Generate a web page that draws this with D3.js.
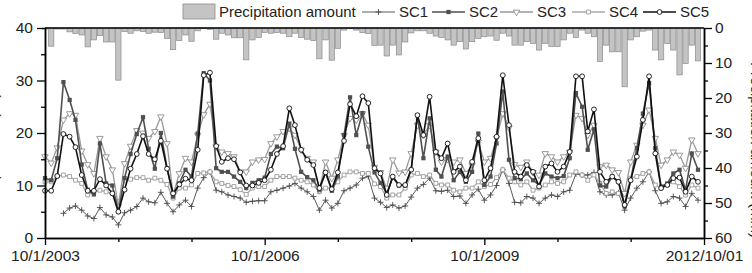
<!DOCTYPE html>
<html>
<head>
<meta charset="utf-8">
<script src="https://cdn.jsdelivr.net/npm/d3@7"></script>
<style>
  body { margin: 0; background: #fff; }
  svg { display: block; font-family: "Liberation Sans", Arial, sans-serif; }
</style>
</head>
<body>
<svg id="chart" width="752" height="273"></svg>
<script>
// monthly values, Oct 2003 .. Sep 2012
var startMonth = new Date(2003, 9, 1);

var precipitation = [0.3, 5.2, 0.3, 0.3, 1.1, 1.6, 2.0, 5.4, 3.4, 2.2, 4.0, 4.0, 14.9, 1.0, 1.5, 0.8, 1.0, 1.5, 1.2, 1.3,
  3.0, 6.2, 3.6, 2.0, 3.8, 0.8, 0.2, 0.4, 3.2, 1.5, 2.0, 2.8, 2.8, 9.1, 3.4, 2.7, 1.3, 1.5, 1.3, 1.5,
  2.5, 1.5, 2.7, 3.2, 3.6, 8.8, 3.4, 9.2, 5.8, 0.6, 0.2, 0.6, 1.3, 1.6, 5.0, 4.9, 8.0, 4.9, 7.7, 4.0,
  1.4, 0.8, 0.8, 1.5, 2.3, 2.7, 3.4, 4.9, 3.9, 6.0, 3.9, 3.0, 2.5, 2.3, 3.5, 1.5, 2.3, 4.9, 4.9, 3.9,
  4.4, 6.3, 4.4, 5.3, 5.3, 3.4, 1.5, 2.7, 0.6, 1.5, 2.5, 9.6, 4.9, 6.8, 6.8, 16.8, 3.4, 2.5, 0.9, 0.6,
  6.3, 9.1, 4.4, 6.3, 13.4, 10.1, 4.9, 9.4];

var sc1 = [null, null, null, 4.7, 5.7, 6.1, 5.3, 4.2, 3.7, 5.8, 4.4, 4.0, 2.5, 4.8, 5.3, 6.0, 7.6, 6.9, 6.7, 8.7,
  6.6, 5.0, 6.3, 7.2, 6.0, 9.5, 11.5, 12.6, 9.1, 8.8, 8.2, 7.9, 7.6, 6.8, 7.0, 7.1, 7.1, 8.8, 9.1, 9.5,
  9.9, 10.4, 9.5, 8.8, 7.9, 5.3, 7.2, 5.7, 6.6, 9.0, 9.5, 10.1, 11.4, 11.7, 7.6, 6.8, 5.8, 6.3, 5.7, 6.1,
  7.8, 9.5, 10.2, 11.4, 9.0, 8.9, 9.1, 7.9, 8.0, 6.6, 8.2, 9.3, 7.2, 8.2, 10.0, 13.0, 10.4, 6.8, 6.7, 7.9,
  7.6, 6.6, 7.6, 8.2, 7.9, 8.8, 9.1, 12.2, 12.0, 12.0, 12.5, 8.8, 8.2, 8.2, 8.6, 5.3, 7.6, 9.5, 10.7, 12.6,
  9.0, 6.6, 6.9, 7.9, 7.6, 6.0, 8.5, 7.2];

var sc2 = [11.4, 11.0, 15.2, 29.7, 26.3, 22.5, 14.0, 9.2, 8.3, 18.0, 10.4, 10.0, 5.0, 11.4, 16.0, 19.8, 23.0, 17.0, 13.2, 20.0,
  13.3, 7.9, 10.4, 13.0, 11.7, 19.9, 31.4, 30.0, 13.3, 12.6, 12.6, 11.7, 10.7, 9.5, 10.5, 11.0, 11.5, 16.0, 17.4, 17.1,
  21.8, 17.0, 12.6, 11.6, 11.0, 9.2, 12.5, 9.0, 11.7, 19.6, 26.8, 19.6, 23.8, 17.4, 12.5, 10.5, 8.5, 11.5, 10.0, 10.0,
  13.0, 23.4, 15.2, 22.8, 13.0, 11.7, 15.5, 11.0, 12.6, 10.7, 12.6, 19.9, 10.1, 11.7, 18.0, 27.9, 14.9, 11.4, 11.2, 12.3,
  11.0, 10.1, 12.3, 11.7, 11.4, 11.8, 15.2, 27.6, 25.0, 16.8, 20.7, 10.0, 9.8, 11.7, 10.8, 6.0, 11.0, 17.1, 23.7, 29.5,
  17.1, 9.8, 10.4, 12.3, 13.0, 9.1, 16.1, 13.0];

var sc3 = [15.5, 14.3, 17.2, 22.5, 23.7, 23.4, 16.6, 14.0, 12.3, 19.0, 15.5, 13.0, 6.0, 14.2, 17.5, 20.5, 20.0, 19.0, 20.3, 23.1,
  18.0, 8.2, 12.3, 15.2, 14.5, 19.6, 23.5, 25.5, 17.4, 16.4, 16.1, 15.5, 12.6, 12.6, 14.5, 14.9, 15.0, 18.0, 19.3, 20.3,
  20.9, 19.6, 16.8, 15.2, 14.5, 9.1, 14.5, 11.4, 14.9, 19.6, 22.8, 22.5, 23.7, 21.5, 13.5, 12.5, 9.5, 14.9, 12.4, 12.6,
  16.1, 21.5, 19.6, 21.5, 16.4, 14.5, 15.0, 14.5, 14.9, 12.3, 13.9, 18.3, 14.5, 15.2, 19.0, 23.7, 21.0, 14.0, 13.5, 14.5,
  12.5, 12.0, 16.1, 15.5, 14.5, 15.5, 16.4, 23.4, 22.8, 19.6, 21.5, 13.6, 13.9, 13.0, 12.5, 8.5, 14.5, 17.7, 21.5, 24.4,
  19.0, 13.9, 14.9, 16.4, 15.8, 13.3, 18.7, 16.1];

var sc4 = [10.7, 10.7, 11.8, 12.0, 11.7, 11.0, 10.4, 8.2, 8.8, 9.1, 8.8, 8.5, 6.9, 11.0, 11.2, 11.5, 11.5, 11.0, 11.4, 11.0,
  10.2, 7.6, 9.5, 9.5, 10.1, 12.3, 12.4, 12.6, 10.7, 10.4, 10.0, 9.8, 9.2, 8.3, 9.5, 9.8, 9.8, 11.0, 11.7, 11.7,
  11.7, 11.4, 11.0, 10.7, 10.1, 8.8, 9.5, 9.5, 10.7, 12.0, 12.6, 12.6, 12.3, 12.3, 10.3, 9.8, 7.6, 8.2, 8.2, 9.5,
  12.0, 12.3, 11.7, 12.0, 10.4, 10.1, 10.1, 9.1, 8.8, 9.5, 9.5, 10.7, 9.8, 10.2, 11.5, 13.0, 11.4, 10.7, 10.1, 10.7,
  9.1, 9.5, 10.1, 10.7, 10.4, 10.7, 12.0, 12.6, 12.0, 11.0, 12.0, 10.4, 8.5, 8.8, 8.5, 7.6, 11.4, 11.7, 12.3, 12.6,
  10.1, 9.5, 10.1, 10.7, 9.8, 8.2, 10.1, 9.5];

var sc5 = [9.0, 9.0, 11.8, 19.8, 19.3, 17.3, 12.0, 9.0, 9.0, 11.2, 10.0, 8.5, 5.0, 9.2, 13.2, 16.0, 19.4, 16.0, 15.0, 18.5,
  13.2, 8.5, 10.2, 11.3, 11.0, 16.8, 31.0, 31.5, 17.5, 14.5, 15.2, 15.0, 12.5, 10.0, 10.0, 10.5, 11.0, 13.0, 16.0, 17.5,
  24.7, 21.5, 16.8, 14.9, 13.9, 9.5, 12.5, 9.3, 12.5, 18.5, 25.5, 23.2, 27.0, 25.7, 13.3, 12.3, 8.2, 11.7, 10.1, 10.1,
  13.0, 23.4, 19.6, 26.9, 16.4, 15.2, 18.0, 12.6, 13.6, 11.0, 14.5, 19.0, 11.0, 13.3, 19.3, 31.0, 21.5, 12.6, 11.7, 13.9,
  12.6, 9.8, 13.6, 14.2, 12.6, 13.6, 16.4, 30.8, 30.8, 20.3, 24.5, 12.6, 10.7, 11.7, 10.7, 6.3, 11.0, 15.5, 22.5, 30.8,
  16.1, 9.5, 10.1, 11.4, 11.5, 8.8, 11.7, 10.7];

var seriesNames = ["SC1", "SC2", "SC3", "SC4", "SC5"];
var seriesValues = [sc1, sc2, sc3, sc4, sc5];

var xTickLabels = ["10/1/2003", "10/1/2006", "10/1/2009", "2012/10/01"];
var tempTicks = [0, 10, 20, 30, 40];
var precipTicks = [0, 10, 20, 30, 40, 50, 60];

var svg = d3.select("#chart"),
    plotL = 45, plotR = 704, plotT = 28, plotB = 238;

function monthDate(i) { return d3.timeMonth.offset(startMonth, i); }

var x = d3.scaleTime()
    .domain([startMonth, monthDate(108)])
    .range([plotL, plotR]);
var y = d3.scaleLinear().domain([0, 40]).range([plotB, plotT]);
var yP = d3.scaleLinear().domain([0, 60]).range([plotT, plotB]);

// precipitation bars hanging from the top
var barW = (plotR - plotL) / 108 - 0.8;
svg.append("g").selectAll("rect")
    .data(precipitation)
    .enter().append("rect")
    .attr("x", function (d, i) { return x(monthDate(i)) - barW / 2; })
    .attr("y", plotT)
    .attr("width", barW)
    .attr("height", function (d) { return yP(d) - plotT; })
    .attr("fill", "#c4c4c4")
    .attr("stroke", "#8c8c8c")
    .attr("stroke-width", 0.7);

// thin plus marker like the original (d3's cross is a filled shape)
var plusMark = "M-3,0H3M0,-3V3";

var styles = {
  SC1: { line: "#5a5a5a", width: 1, path: plusMark, fill: "none", stroke: "#4a4a4a" },
  SC2: { line: "#505050", width: 1.6, symbol: d3.symbolSquare, size: 18, fill: "#505050", stroke: "none" },
  SC3: { line: "#9a9a9a", width: 1.3, symbol: d3.symbolTriangle, size: 18, fill: "#fff", stroke: "#8e8e8e", rotate: 180 },
  SC4: { line: "#a8a8a8", width: 1.3, symbol: d3.symbolSquare, size: 15, fill: "#fff", stroke: "#9a9a9a" },
  SC5: { line: "#111", width: 1.6, symbol: d3.symbolCircle, size: 18, fill: "#fff", stroke: "#111" }
};

function markPath(s) { return s.path || d3.symbol().type(s.symbol).size(s.size)(); }

var drawOrder = [0, 3, 2, 1, 4];
var line = d3.line()
    .defined(function (d) { return d != null; })
    .x(function (d, i) { return x(monthDate(i)); })
    .y(function (d) { return y(d); });

drawOrder.forEach(function (k) {
  var name = seriesNames[k], s = styles[name], vals = seriesValues[k];
  var g = svg.append("g");
  g.append("path")
      .attr("d", line(vals))
      .attr("fill", "none")
      .attr("stroke", s.line)
      .attr("stroke-width", s.width);
  g.selectAll("path.m")
      .data(vals.map(function (v, i) { return { v: v, i: i }; }).filter(function (d) { return d.v != null; }))
      .enter().append("path")
      .attr("class", "m")
      .attr("d", markPath(s))
      .attr("transform", function (d) {
        return "translate(" + x(monthDate(d.i)) + "," + y(d.v) + ")" + (s.rotate ? " rotate(" + s.rotate + ")" : "");
      })
      .attr("fill", s.fill)
      .attr("stroke", s.stroke)
      .attr("stroke-width", 0.9);
});

// frame and axes
svg.append("line").attr("x1", plotL).attr("x2", plotR).attr("y1", plotT).attr("y2", plotT)
    .attr("stroke", "#000").attr("stroke-width", 1.5);

svg.append("g").attr("transform", "translate(" + plotL + ",0)")
    .call(d3.axisLeft(y).tickValues(tempTicks).tickSize(8).tickPadding(4).tickSizeOuter(0));
svg.append("g").attr("transform", "translate(" + plotL + ",0)")
    .call(d3.axisLeft(y).tickValues([5, 15, 25, 35]).tickSize(4).tickFormat("").tickSizeOuter(0));

svg.append("g").attr("transform", "translate(" + plotR + ",0)")
    .call(d3.axisRight(yP).tickValues(precipTicks).tickSize(8).tickPadding(3).tickSizeOuter(0));
svg.append("g").attr("transform", "translate(" + plotR + ",0)")
    .call(d3.axisRight(yP).tickValues([5, 15, 25, 35, 45, 55]).tickSize(4).tickFormat("").tickSizeOuter(0));

var majorDates = [0, 36, 72, 108].map(monthDate);
svg.append("g").attr("transform", "translate(0," + plotB + ")")
    .call(d3.axisBottom(x).tickValues(majorDates).tickSize(7).tickPadding(5).tickSizeOuter(0)
      .tickFormat(function (d, i) { return xTickLabels[i]; }));
svg.append("g").attr("transform", "translate(0," + plotB + ")")
    .call(d3.axisBottom(x).tickValues([12, 24, 48, 60, 84, 96].map(monthDate)).tickSize(4).tickFormat("").tickSizeOuter(0));

svg.selectAll(".domain").attr("stroke", "#000").attr("stroke-width", 1.5);
svg.selectAll(".tick line").attr("stroke", "#000").attr("stroke-width", 1.3);
svg.selectAll(".tick text").attr("font-size", 15.5).attr("fill", "#222")
    .attr("font-family", "'Liberation Sans', Arial, sans-serif");

// axis titles, almost entirely outside the view like in the original
svg.append("text")
    .attr("transform", "translate(-2,150) rotate(-90)")
    .attr("text-anchor", "middle")
    .attr("font-size", 15).attr("fill", "#222")
    .text("Temperature (°C)");
svg.append("text")
    .attr("transform", "translate(751,150) rotate(90)")
    .attr("text-anchor", "middle")
    .attr("font-size", 15).attr("fill", "#222")
    .text("Precipitation amount (mm)");

// legend
var legend = svg.append("g").attr("font-size", 15).attr("fill", "#222");
legend.append("rect").attr("x", 183).attr("y", 4).attr("width", 32).attr("height", 15)
    .attr("fill", "#c4c4c4").attr("stroke", "#8c8c8c").attr("stroke-width", 0.8);
legend.append("text").attr("x", 219).attr("y", 17).text("Precipitation amount");

var legendX = [362, 432, 500, 572, 643];
seriesNames.forEach(function (name, k) {
  var s = styles[name], x0 = legendX[k];
  legend.append("line").attr("x1", x0).attr("x2", x0 + 33).attr("y1", 12).attr("y2", 12)
      .attr("stroke", s.line).attr("stroke-width", s.width);
  legend.append("path")
      .attr("d", markPath(s))
      .attr("transform", "translate(" + (x0 + 16.5) + ",12)" + (s.rotate ? " rotate(" + s.rotate + ")" : ""))
      .attr("fill", s.fill).attr("stroke", s.stroke).attr("stroke-width", 0.9);
  legend.append("text").attr("x", x0 + 37).attr("y", 17).text(name);
});
</script>
</body>
</html>
